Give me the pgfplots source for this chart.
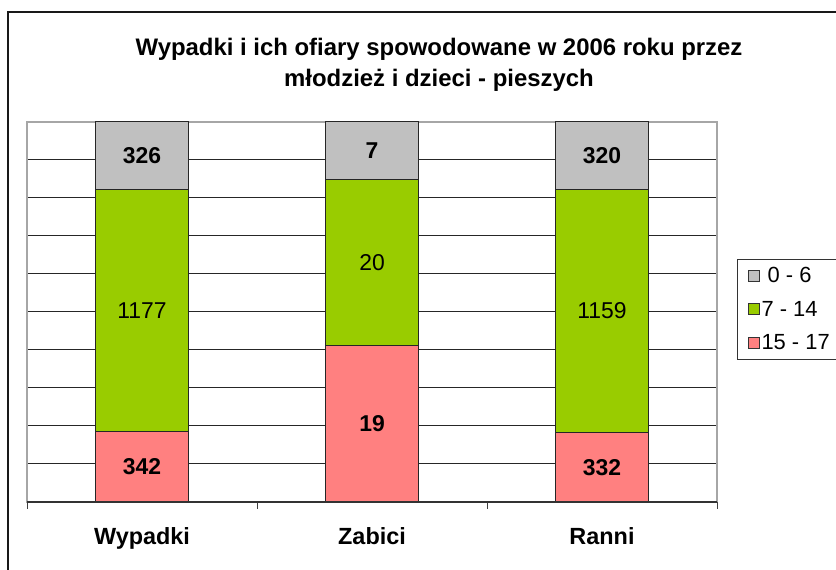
\documentclass[border=0pt]{standalone}
\usepackage{fontspec}
\setmainfont{Liberation Sans}
\usepackage{pgfplots}
\usepackage{pgfplotstable}
\pgfplotsset{compat=1.18}
\definecolor{cgrey}{HTML}{C0C0C0}
\definecolor{cgreen}{HTML}{99CC00}
\definecolor{cpink}{HTML}{FF8080}

% age 15 - 17
\pgfplotstableread{
x pct raw
0 18.54 342
1 41.30 19
2 18.33 332
}\tabPink
% age 7 - 14
\pgfplotstableread{
x pct raw
0 63.79 1177
1 43.48 20
2 64.00 1159
}\tabGreen
% age 0 - 6
\pgfplotstableread{
x pct raw
0 17.67 326
1 15.22 7
2 17.67 320
}\tabGrey

\begin{document}
\begin{tikzpicture}[x=1bp,y=1bp]
\useasboundingbox (0,0) rectangle (836,570);
\draw[line width=2bp, black!90] (8,-20) -- (8,557.5) -- (860,557.5);
\node[font=\bfseries\fontsize{24}{31}\selectfont, align=center] at (439,505)
  {Wypadki i ich ofiary spowodowane w 2006 roku przez\\młodzież i dzieci - pieszych};
\begin{axis}[
  at={(27bp,68bp)}, anchor=south west,
  width=690bp, height=380bp, scale only axis,
  ybar stacked, bar width=92.6bp,
  xmin=-0.5, xmax=2.5, ymin=0, ymax=100,
  xtick={0,1,2}, xticklabels={Wypadki, Zabici, Ranni},
  major tick length=0pt,
  xticklabel style={font=\bfseries\fontsize{23.5}{27}\selectfont, anchor=base, yshift=-43bp},
  extra x ticks={-0.5,0.5,1.5,2.5}, extra x tick labels={},
  extra x tick style={major tick length=7bp, tick align=outside, tick pos=bottom, grid=none, tick style={black!75, line width=1bp}},
  ytick={0,10,...,100}, yticklabels={},
  ymajorgrids, grid style={black!85, line width=1bp},
  axis line style={draw=gray!70, line width=1.2bp},
  /pgf/number format/assume math mode=true,
  /pgf/number format/1000 sep={},
  nodes near coords, point meta=explicit,
  every node near coord/.append style={anchor=center, font=\fontsize{23}{27}\selectfont},
  reverse legend,
  legend style={at={(1.029,0.640)}, anchor=north west, draw=black!80, line width=1bp,
    font=\fontsize{22}{26}\selectfont, row sep=13bp, inner xsep=10bp, inner ysep=6bp, cells={anchor=west}},
  legend image code/.code={\draw[#1, draw=black!80, line width=1bp] (0bp,-5.5bp) rectangle (11bp,5.5bp);},
  after end axis/.code={\draw[black!80, line width=1.2bp] (rel axis cs:0,0) -- (rel axis cs:1,0);},
]
\addplot[fill=cpink, draw=black!85, line width=1bp,
  every node near coord/.append style={font=\bfseries\fontsize{23}{27}\selectfont}]
  table[x=x, y=pct, meta=raw] {\tabPink};
\addplot[fill=cgreen, draw=black!85, line width=1bp]
  table[x=x, y=pct, meta=raw] {\tabGreen};
\addplot[fill=cgrey, draw=black!85, line width=1bp,
  every node near coord/.append style={font=\bfseries\fontsize{23}{27}\selectfont}]
  table[x=x, y=pct, meta=raw] {\tabGrey};
\legend{15 - 17, 7 - 14, \ 0 - 6}
\end{axis}
\end{tikzpicture}
\end{document}
